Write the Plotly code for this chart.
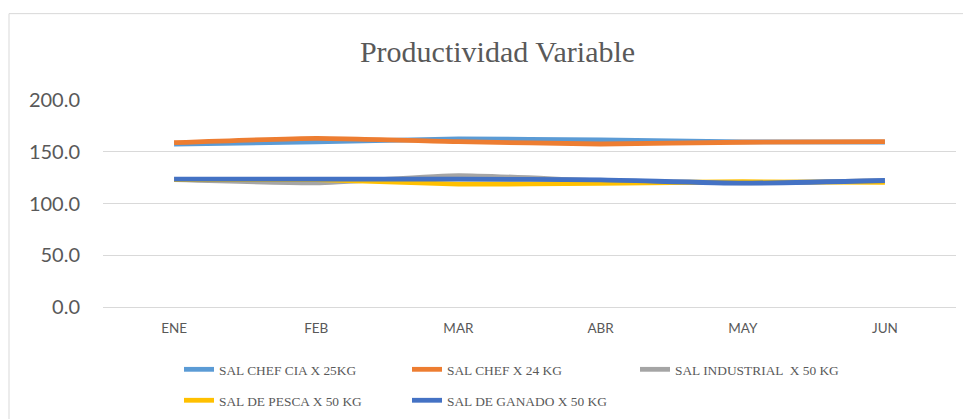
import plotly.graph_objects as go

months = ["ENE", "FEB", "MAR", "ABR", "MAY", "JUN"]
chef_cia_25 = [157.5, 159.5, 162.4, 161.4, 159.5, 159.3]
chef_24 = [158.8, 163.0, 159.8, 157.5, 159.2, 159.8]
industrial_50 = [123.0, 120.0, 127.0, 122.0, 120.0, 122.0]
pesca_50 = [123.0, 123.0, 118.7, 119.5, 121.0, 120.5]
ganado_50 = [123.5, 123.5, 123.5, 122.8, 119.6, 122.2]

names = ["SAL CHEF CIA X 25KG", "SAL CHEF X 24 KG", "SAL INDUSTRIAL  X 50 KG",
         "SAL DE PESCA X 50 KG", "SAL DE GANADO X 50 KG"]
values = [chef_cia_25, chef_24, industrial_50, pesca_50, ganado_50]
colors = ["#5B9BD5", "#ED7D31", "#A5A5A5", "#FFC000", "#4472C4"]

W, H = 971, 419
OFF = 8  # page body margin offset
# target page-pixel geometry of the plot area
PL, PR, PT, PB = 103, 956, 100, 307.3
ML, MT = PL - OFF, PT - OFF
MR = W - (PR - OFF)
MB = H - (PB - OFF)
PW, PH = PR - PL, PB - PT


def px_x(x):
    return (x - PL) / PW


def px_y(y):
    return (PB - y) / PH


# legend item text start (px) and row centre (px), page coordinates
legend_pos = [(220, 370), (448, 370), (676, 370), (220, 401), (448, 401)]

fig = go.Figure()
legend_layouts = {}
for i, (name, vals, color) in enumerate(zip(names, values, colors)):
    lid = "legend" if i == 0 else f"legend{i + 1}"
    fig.add_trace(go.Scatter(
        x=months, y=vals, name=name, mode="lines",
        line=dict(color=color, width=4.8, shape="spline", smoothing=0.5),
        legend=lid,
    ))
    tx, ty = legend_pos[i]
    legend_layouts[lid] = dict(
        orientation="v", xref="paper", yref="paper",
        xanchor="left", yanchor="middle",
        x=px_x(tx - 41), y=px_y(ty),
        font=dict(family="Liberation Serif, Times New Roman, serif", size=13.4, color="#595959"),
        bgcolor="rgba(0,0,0,0)", borderwidth=0, itemclick=False,
    )

fig.update_layout(
    width=W, height=H,
    margin=dict(l=ML, r=MR, t=MT, b=MB, autoexpand=False),
    paper_bgcolor="white", plot_bgcolor="white",
    title=dict(
        text="Productividad Variable",
        x=(497.5 - OFF) / W, xref="container", xanchor="center",
        y=1 - (51 - OFF) / H, yref="container", yanchor="middle",
        font=dict(family="Liberation Serif, Times New Roman, serif", size=30, color="#595959"),
    ),
    xaxis=dict(
        range=[-0.5, 5.5],
        showgrid=False, showline=False, zeroline=False,
        ticks="", tickfont=dict(family="Lato, Carlito, sans-serif", size=13.5, color="#595959"),
        ticklabelstandoff=11,
    ),
    yaxis=dict(
        range=[0, 200], dtick=50, tickformat=".1f",
        showgrid=True, gridcolor="#d9d9d9", gridwidth=1,
        zeroline=True, zerolinecolor="#d9d9d9", zerolinewidth=1,
        showline=False, ticks="",
        tickfont=dict(family="Lato, Carlito, sans-serif", size=20, color="#595959"),
        ticklabelstandoff=22,
    ),
    showlegend=True,
    **legend_layouts,
)

fig.add_shape(
    type="rect", xref="paper", yref="paper",
    x0=px_x(9), x1=px_x(970),
    y0=px_y(460), y1=px_y(13.5),
    line=dict(color="#d9d9d9", width=1), fillcolor="rgba(0,0,0,0)", layer="below",
)

fig.write_html("out.html")
